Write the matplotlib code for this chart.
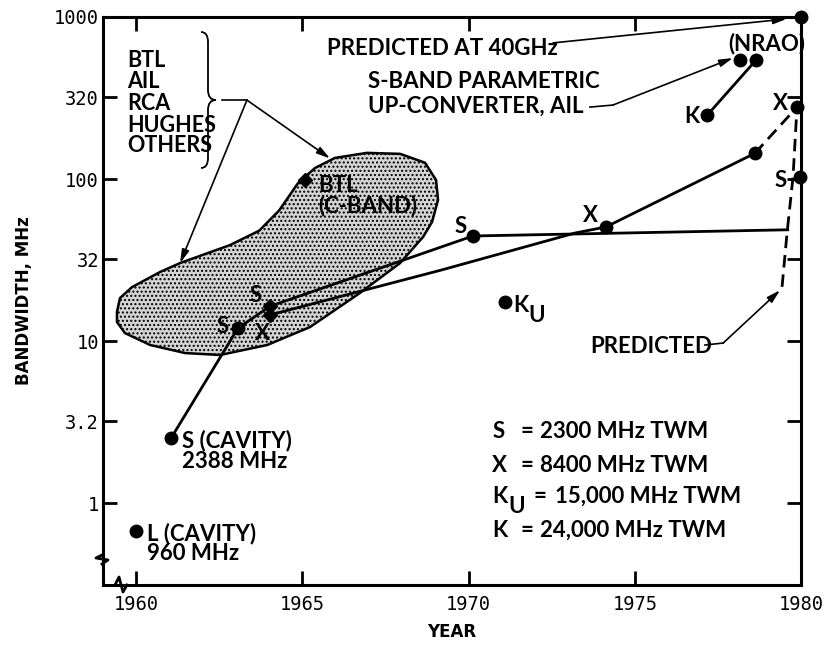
import matplotlib
matplotlib.use("Agg")
import matplotlib.pyplot as plt
from matplotlib.path import Path
from matplotlib.patches import Polygon, PathPatch
from matplotlib.ticker import NullLocator

plt.rcParams['font.family'] = 'DejaVu Sans Mono'
NARROW = ['Lato', 'DejaVu Sans']

# S-band TWM line (cavity -> 1963 -> 1964 -> 1970 -> flat)
s_years = [1961.05, 1963.06, 1964.03, 1970.13, 1979.60]
s_bw = [2.52, 12.0, 16.4, 44.5, 48.6]

# X-band TWM line
x_years = [1964.03, 1969.2, 1973.2, 1974.13, 1978.61]
x_bw = [14.5, 27.5, 46.4, 50.6, 144]

# predicted (dashed)
x_pred_years = [1978.61, 1979.88]
x_pred_bw = [144, 278]
pred_years = [1979.43, 1979.58, 1979.76, 1979.88]
pred_bw = [21.6, 46.4, 103, 278]

# K-band / NRAO
k_years = [1977.18, 1978.65]
k_bw = [248, 543]
nrao_year, nrao_bw = 1978.17, 543

# single points
ku_year, ku_bw = 1971.09, 17.4
l_year, l_bw = 1960.0, 0.67
ghz40_year, ghz40_bw = 1980.0, 1000
s80_year, s80_bw = 1979.97, 103
diamond_years = [1965.08, 1964.03, 1964.03]
diamond_bw = [98.6, 16.4, 14.5]

# shaded region (BTL, AIL, RCA, Hughes, others)
blob_years = [1959.42, 1959.51, 1959.87, 1960.72, 1961.32, 1962.82, 1963.70, 1964.30,
              1964.87, 1965.38, 1965.98, 1966.94, 1967.94, 1968.69, 1969.02, 1969.08,
              1968.90, 1968.63, 1967.94, 1966.73, 1965.23, 1963.94, 1962.52, 1961.47,
              1960.42, 1959.66, 1959.42]
blob_bw = [15.1, 18.4, 21.5, 26.7, 30.3, 39.1, 48.0, 64.0,
           94.5, 117, 135, 145, 143, 126, 98.6, 74.2,
           54.3, 43.9, 30.3, 19.8, 12.2, 9.45, 8.2, 8.43,
           9.45, 11.2, 13.1]

xticks = [1960, 1965, 1970, 1975, 1980]
yticks = [1, 3.2, 10, 32, 100, 320, 1000]
ytick_labels = ['1', '3.2', '10', '32', '100', '320', '1000']

fig = plt.figure(figsize=(8.28, 6.45), dpi=100)
ax = fig.add_axes([103 / 828, 60 / 645, 698 / 828, 568 / 645])
ax.set_yscale('log')
ax.set_xlim(1959, 1980)
ax.set_ylim(0.312, 1000)

ax.add_patch(Polygon(list(zip(blob_years, blob_bw)), closed=True, facecolor='#d4d4d4',
                     edgecolor='k', lw=1.8, hatch='....', joinstyle='round', zorder=1))

ax.plot(s_years, s_bw, 'k-', lw=2, zorder=3)
ax.plot(x_years, x_bw, 'k-', lw=2, zorder=3)
ax.plot(k_years, k_bw, 'k-', lw=2, zorder=3)
ax.plot(x_pred_years, x_pred_bw, 'k--', lw=2, dashes=(4.5, 2.5), zorder=3)
ax.plot(pred_years, pred_bw, 'k--', lw=2, dashes=(4.5, 2.5), zorder=3)

circ_years = [s_years[0], s_years[1], s_years[3], x_years[3], x_years[4], k_years[0], k_years[1],
              nrao_year, ku_year, l_year, ghz40_year, s80_year, x_pred_years[1]]
circ_bw = [s_bw[0], s_bw[1], s_bw[3], x_bw[3], x_bw[4], k_bw[0], k_bw[1],
           nrao_bw, ku_bw, l_bw, ghz40_bw, s80_bw, x_pred_bw[1]]
ax.plot(circ_years, circ_bw, 'ko', ms=9, ls='none', zorder=4, clip_on=False)
ax.plot(diamond_years, diamond_bw, 'kD', ms=7.5, ls='none', zorder=4)

# axes styling
ax.set_xticks(xticks)
ax.set_yticks(yticks, labels=ytick_labels)
ax.yaxis.set_minor_locator(NullLocator())
ax.tick_params(which='both', direction='in', length=10, width=2, top=True, right=True,
               labelsize=13.5)
ax.tick_params(axis='x', pad=7)
ax.tick_params(axis='y', pad=3)
for sp in ax.spines.values():
    sp.set_linewidth(2.2)
ax.set_xlabel('YEAR', family='DejaVu Sans', fontweight='bold', fontsize=12, labelpad=7)
ax.set_ylabel('BANDWIDTH, MHz', family='DejaVu Sans', fontweight='bold', fontsize=12,
              labelpad=15)


def frac(px, py):
    return ((px - 103) / 698, (585 - py) / 568)


# axis break marks
brk = [frac(102, 555), frac(96, 558), frac(108, 560), frac(102, 564)]
ax.plot([p[0] for p in brk], [p[1] for p in brk], 'k-', lw=2, transform=ax.transAxes,
        clip_on=False)
brk = [frac(115, 585), frac(119, 577), frac(123, 592), frac(127, 585)]
ax.plot([p[0] for p in brk], [p[1] for p in brk], 'k-', lw=2, transform=ax.transAxes,
        clip_on=False)

# brace
bv = [frac(201, 32), frac(208, 32), frac(208, 42), frac(208, 90), frac(208, 100),
      frac(216, 100), frac(208, 100), frac(208, 110), frac(208, 158), frac(208, 168),
      frac(201, 168)]
bc = [Path.MOVETO, Path.CURVE3, Path.CURVE3, Path.LINETO, Path.CURVE3, Path.CURVE3,
      Path.CURVE3, Path.CURVE3, Path.LINETO, Path.CURVE3, Path.CURVE3]
ax.add_patch(PathPatch(Path(bv, bc), fill=False, lw=1.3, transform=ax.transAxes,
                       clip_on=False))


def note(x, y, s, size=16, **kw):
    ax.text(x, y, s, family=NARROW, fontsize=size, fontweight='bold', va='baseline',
            ha='left', zorder=5, **kw)


arrow = dict(arrowstyle='-|>,head_length=0.8,head_width=0.22', lw=1.2, color='k',
             shrinkA=0, shrinkB=0)


def pointer(x0, y0, x1, y1):
    ax.annotate('', xy=(x1, y1), xytext=(x0, y0), arrowprops=arrow)


for txt, b in zip(['BTL', 'AIL', 'RCA', 'HUGHES', 'OTHERS'], [491, 365, 267, 195, 147]):
    note(1959.72, b, txt, size=15.5)
ax.plot([1962.59, 1963.33], [307, 307], 'k-', lw=1.2)
pointer(1963.33, 307, 1965.83, 134)
pointer(1963.33, 307, 1961.32, 30.3)

note(1965.74, 583, 'PREDICTED AT 40GHz')
pointer(1972.54, 692, 1979.57, 973)
note(1966.97, 365, 'S-BAND PARAMETRIC')
note(1966.97, 255, 'UP-CONVERTER, AIL')
ax.plot([1973.65, 1974.34], [278, 286], 'k-', lw=1.2)
pointer(1974.34, 286, 1977.95, 558)
note(1977.80, 626, '(NRAO)')
note(1976.50, 222, 'K')
note(1979.15, 267, 'X')
note(1979.21, 89.3, 'S')
note(1969.59, 46.4, 'S')
note(1973.44, 54.3, 'X')
note(1971.34, 15.1, 'K')
note(1971.79, 13.1, 'U')
note(1973.65, 8.43, 'PREDICTED')
ax.plot([1977.11, 1977.66], [9.45, 9.72], 'k-', lw=1.2)
pointer(1977.66, 9.72, 1979.37, 20.6)
note(1965.47, 83.2, 'BTL')
note(1965.47, 62.6, '(C-BAND)')
note(1963.42, 17.4, 'S')
note(1962.43, 11.2, 'S')
note(1963.57, 10.1, 'X')
note(1961.38, 2.22, 'S (CAVITY)')
note(1961.38, 1.64, '2388 MHz')
note(1960.32, 0.591, 'L (CAVITY)')
note(1960.32, 0.445, '960 MHz')

# key
for letter, b in [('S', 2.52), ('X', 1.55), ('K', 0.617)]:
    note(1970.71, b, letter)
    note(1971.55, b, '=')
note(1972.15, 2.52, '2300 MHz TWM')
note(1972.15, 1.55, '8400 MHz TWM')
note(1972.15, 0.617, '24,000 MHz TWM')
note(1970.71, 1.0, 'K')
note(1971.19, 0.868, 'U')
note(1971.94, 1.0, '=')
note(1972.60, 1.0, '15,000 MHz TWM')

plt.savefig('out.png', dpi=100)
